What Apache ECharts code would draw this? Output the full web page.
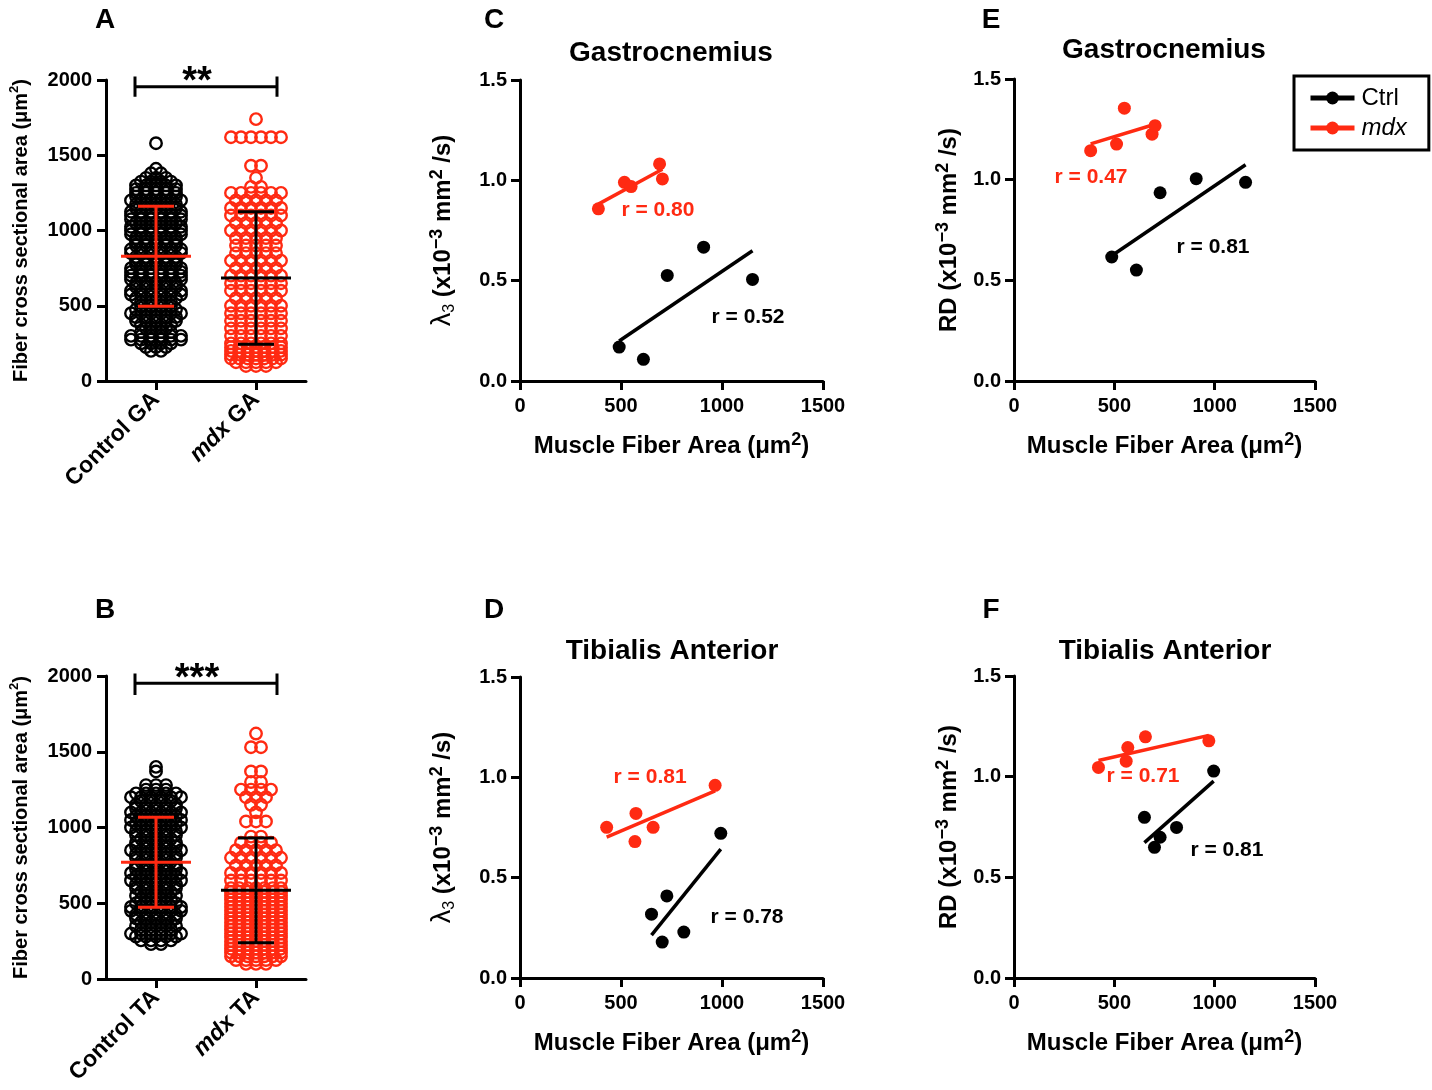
<!DOCTYPE html>
<html><head><meta charset="utf-8">
<script src="https://cdn.jsdelivr.net/npm/echarts@6/dist/echarts.min.js"></script>
<style>html,body{margin:0;padding:0;background:#fff}#c{width:1432px;height:1090px}</style>
</head><body><div id="c"></div>
<script>
const RED = '#ff2a12', BLK = '#000000';
const FONT = '"Liberation Sans", Arial, Helvetica, sans-serif';

// ---------- Panel A / B : fiber cross sectional area (binned: level value, number of fibers) ----------
const gaCats = ['Control GA', 'mdx GA'];
const taCats = ['Control TA', 'mdx TA'];
const areaTicks = [0, 500, 1000, 1500, 2000];

const gaCtrlLevels = [200,225,250,275,300,325,350,375,400,425,450,475,500,525,550,575,600,625,650,675,700,725,750,775,800,825,850,875,900,925,950,975,1000,1025,1050,1075,1100,1125,1150,1175,1200,1225,1250,1275,1300,1325,1350,1380,1410,1580];
const gaCtrlCounts = [2,3,4,6,6,4,3,4,5,5,6,5,4,4,5,6,6,5,5,6,6,6,6,5,5,5,6,6,5,5,5,6,6,6,5,6,6,6,5,5,6,5,5,5,5,4,3,2,1,1];
const gaMdxLevels  = [100,125,150,175,200,225,250,300,350,400,450,500,550,600,650,700,750,800,850,900,950,1000,1050,1100,1150,1200,1250,1290,1350,1430,1620,1740];
const gaMdxCounts  = [3,5,7,7,7,7,6,6,6,6,6,6,5,6,6,6,5,6,5,5,5,6,5,6,6,5,6,2,1,2,6,1];
const taCtrlLevels = [230,255,280,300,325,350,375,400,425,450,475,500,525,550,575,600,625,650,675,700,725,750,775,800,825,850,875,900,925,950,975,1000,1025,1050,1075,1100,1125,1150,1175,1200,1225,1250,1280,1370,1400];
const taCtrlCounts = [2,4,5,6,4,5,4,5,5,6,6,5,4,5,4,5,5,6,5,6,5,5,4,5,5,6,5,5,4,5,5,6,5,6,5,6,5,5,4,6,5,3,3,1,1];
const taMdxLevels  = [100,125,150,175,200,225,250,275,300,325,350,375,400,425,450,475,500,525,550,575,600,650,700,750,800,850,900,940,1040,1100,1150,1200,1250,1300,1370,1530,1620];
const taMdxCounts  = [3,5,7,7,7,7,7,7,7,7,7,7,7,7,7,7,7,7,7,7,7,6,6,5,6,5,4,2,3,1,2,3,4,2,2,2,1];

// mean and SD (Control, mdx)
const gaMean = [829, 685], gaSD = [332, 440];
const taMean = [771, 585], taSD = [297, 346];
const gaStars = '**', taStars = '***';

// ---------- Panels C-F : DWI metric vs muscle fiber area ----------
const fiberTicks = [0, 500, 1000, 1500];
const dwiTicks = [0, 0.5, 1.0, 1.5];
// C: lambda3, Gastrocnemius
const cCtrlX = [491, 611, 729, 909, 1151], cCtrlY = [0.169, 0.108, 0.526, 0.667, 0.506];
const cMdxX  = [388, 517, 550, 691, 705],  cMdxY  = [0.858, 0.990, 0.969, 1.082, 1.007];
// D: lambda3, Tibialis Anterior
const dCtrlX = [651, 704, 727, 811, 994],  dCtrlY = [0.318, 0.179, 0.409, 0.229, 0.721];
const dMdxX  = [429, 569, 574, 659, 966],  dMdxY  = [0.751, 0.680, 0.820, 0.751, 0.960];
// E: RD, Gastrocnemius
const eCtrlX = [487, 610, 728, 908, 1154], eCtrlY = [0.616, 0.551, 0.935, 1.005, 0.987];
const eMdxX  = [382, 511, 550, 688, 703],  eMdxY  = [1.144, 1.177, 1.355, 1.226, 1.268];
// F: RD, Tibialis Anterior
const fCtrlX = [650, 700, 728, 810, 995],  fCtrlY = [0.798, 0.649, 0.699, 0.748, 1.028];
const fMdxX  = [421, 559, 567, 655, 971],  fMdxY  = [1.046, 1.077, 1.145, 1.198, 1.178];
// correlation coefficients as printed
const rText = { cCtrl:'r = 0.52', cMdx:'r = 0.80', dCtrl:'r = 0.78', dMdx:'r = 0.81',
                eCtrl:'r = 0.81', eMdx:'r = 0.47', fCtrl:'r = 0.81', fMdx:'r = 0.71' };

// ---------- layout (annotation anchors in data coordinates) ----------
const rPos = { cCtrl:[1129,0.319], cMdx:[683,0.852], dCtrl:[1124,0.305], dMdx:[644,1.001],
               eCtrl:[992,0.664], eMdx:[384,1.012], fCtrl:[1061,0.637], fMdx:[643,1.0] };

const chart = echarts.init(document.getElementById('c'), null, {renderer:'canvas', devicePixelRatio:1});

const grids = [
  {left:106, top:80,  width:200, height:301},  // A
  {left:106, top:676, width:200, height:303},  // B
  {left:520, top:80,  width:303, height:301},  // C
  {left:520, top:677, width:303, height:301},  // D
  {left:1014, top:79, width:301, height:302},  // E
  {left:1014, top:676, width:301, height:302}  // F
];

const axisLine = {show:true, onZero:false, lineStyle:{color:'#000', width:3}};
const axisTick = {show:true, length:9, lineStyle:{color:'#000', width:3}};
const lbl = {color:'#000', fontSize:20, fontWeight:'bold', fontFamily:FONT};
const rich = {
  n:  {fontSize:24, fontWeight:'bold', fontFamily:FONT, color:'#000', lineHeight:30},
  sp: {fontSize:18, fontWeight:'bold', fontFamily:FONT, color:'#000', lineHeight:18, verticalAlign:'top'},
  l:  {fontSize:27, fontWeight:'normal', fontFamily:FONT, color:'#000', lineHeight:30},
  sb: {fontSize:16, fontWeight:'normal', fontFamily:FONT, color:'#000', lineHeight:16, verticalAlign:'bottom'},
  a:  {fontSize:20, fontWeight:'bold', fontFamily:FONT, color:'#000', lineHeight:26},
  as: {fontSize:13, fontWeight:'bold', fontFamily:FONT, color:'#000', lineHeight:13, verticalAlign:'top'},
  b:  {fontSize:23, fontWeight:'bold', fontFamily:FONT, color:'#000'},
  i:  {fontSize:23, fontWeight:'bold', fontStyle:'italic', fontFamily:FONT, color:'#000'}
};
const xName = '{n|Muscle Fiber Area (μm}{sp|2}{n|)}';
const lamName = '{l|λ}{sb|3}{n| (x10}{sp|−3}{n| mm}{sp|2}{n| /s)}';
const rdName = '{n|RD (x10}{sp|−3}{n| mm}{sp|2}{n| /s)}';
const areaName = '{a|Fiber cross sectional area (μm}{as|2}{a|)}';

function catAxis(grid, cats) {
  return {type:'category', gridIndex:grid, data:cats, boundaryGap:true,
    axisLine, axisTick:Object.assign({alignWithLabel:true}, axisTick), splitLine:{show:false},
    axisLabel:{rotate:45, margin:15, color:'#000', fontSize:23, fontWeight:'bold', fontFamily:FONT, rich,
      formatter: v => v.startsWith('mdx') ? '{i|mdx}{b|' + v.slice(3) + '}' : '{b|' + v + '}'}};
}
function hiddenX(grid) {
  return {type:'value', gridIndex:grid, min:-0.5, max:1.5, show:false, splitLine:{show:false}};
}
function fiberX(grid) {
  return {type:'value', gridIndex:grid, min:fiberTicks[0], max:fiberTicks[fiberTicks.length-1], interval:500,
    axisLine, axisTick, splitLine:{show:false}, axisLabel:Object.assign({margin:15, formatter: v => String(v)}, lbl),
    name:xName, nameLocation:'middle', nameGap:50, nameTextStyle:{rich}};
}
function areaY(grid) {
  return {type:'value', gridIndex:grid, min:areaTicks[0], max:areaTicks[areaTicks.length-1], interval:500,
    axisLine, axisTick, splitLine:{show:false}, axisLabel:Object.assign({margin:14, formatter: v => String(v)}, lbl),
    name:areaName, nameLocation:'middle', nameGap:72, nameTextStyle:{rich}};
}
function dwiY(grid, name, gap) {
  return {type:'value', gridIndex:grid, min:dwiTicks[0], max:dwiTicks[dwiTicks.length-1], interval:0.5,
    axisLine, axisTick, splitLine:{show:false},
    axisLabel:Object.assign({margin:13, formatter: v => v.toFixed(1)}, lbl),
    name, nameLocation:'middle', nameGap:gap, nameTextStyle:{rich}};
}

// beeswarm layout: spread fibers of the same level horizontally (px -> category units, 100 px per unit)
function swarm(levels, counts, cat) {
  const pts = [];
  levels.forEach((v, k) => {
    const n = counts[k];
    const sp = n > 1 ? Math.min(10, 50 / (n - 1)) : 0;
    for (let i = 0; i < n; i++) pts.push([cat + (i - (n - 1) / 2) * sp / 100, v]);
  });
  return pts;
}
function swarmSeries(pts, color, xi, yi) {
  return {type:'scatter', xAxisIndex:xi, yAxisIndex:yi, data:pts, symbol:'circle', symbolSize:11.5,
    silent:true, z:2, itemStyle:{color:'rgba(0,0,0,0)', borderColor:color, borderWidth:2.4, opacity:1}};
}
function errSeries(means, sds, xi, yi) {
  return {type:'custom', xAxisIndex:xi, yAxisIndex:yi, z:5, silent:true,
    data: means.map((m, k) => [k, m, sds[k]]),
    renderItem: (params, api) => {
      const x = api.value(0), m = api.value(1), s = api.value(2);
      const c = api.coord([x, m]), t = api.coord([x, m + s]), b = api.coord([x, m - s]);
      const col = params.dataIndex === 0 ? RED : BLK;
      const st = {stroke:col, lineWidth:3};
      return {type:'group', children:[
        {type:'line', shape:{x1:c[0]-35, y1:c[1], x2:c[0]+35, y2:c[1]}, style:st},
        {type:'line', shape:{x1:t[0], y1:t[1], x2:b[0], y2:b[1]}, style:st},
        {type:'line', shape:{x1:t[0]-18, y1:t[1], x2:t[0]+18, y2:t[1]}, style:st},
        {type:'line', shape:{x1:b[0]-18, y1:b[1], x2:b[0]+18, y2:b[1]}, style:st}
      ]};
    }};
}
function bracketSeries(xi, yi, lvl, lo, hi, stars, starY) {
  return [
    {type:'line', xAxisIndex:xi, yAxisIndex:yi, clip:false, symbol:'none', silent:true, z:5,
      lineStyle:{color:'#000', width:3, opacity:1},
      data:[[-0.21, lo], [-0.21, hi], [-0.21, lvl], [1.21, lvl], [1.21, hi], [1.21, lo]]},
    {type:'scatter', xAxisIndex:xi, yAxisIndex:yi, clip:false, silent:true, symbolSize:1,
      itemStyle:{color:'rgba(0,0,0,0)', opacity:1}, data:[[0.41, starY]],
      label:{show:true, position:'inside', formatter:stars, color:'#000', opacity:1, fontSize:38, fontWeight:'bold', fontFamily:FONT}}
  ];
}
function fit(xs, ys) {
  const n = xs.length;
  const mx = xs.reduce((a, b) => a + b, 0) / n, my = ys.reduce((a, b) => a + b, 0) / n;
  let sxy = 0, sxx = 0;
  xs.forEach((x, k) => { sxy += (x - mx) * (ys[k] - my); sxx += (x - mx) * (x - mx); });
  const b = sxy / sxx, a = my - b * mx;
  const x0 = Math.min(...xs), x1 = Math.max(...xs);
  return [[x0, a + b * x0], [x1, a + b * x1]];
}
function groupSeries(xs, ys, color, xi, yi, key) {
  return [
    {type:'line', xAxisIndex:xi, yAxisIndex:yi, data:fit(xs, ys), symbol:'none', silent:true, z:2,
      lineStyle:{color, width:3.5, opacity:1}},
    {type:'scatter', xAxisIndex:xi, yAxisIndex:yi, data:xs.map((x, k) => [x, ys[k]]), symbol:'circle',
      symbolSize:13, silent:true, z:3, itemStyle:{color, opacity:1}},
    {type:'scatter', xAxisIndex:xi, yAxisIndex:yi, clip:false, silent:true, symbolSize:1,
      itemStyle:{color:'rgba(0,0,0,0)', opacity:1}, data:[rPos[key]],
      label:{show:true, position:'inside', formatter:rText[key], color, opacity:1, fontSize:21, fontWeight:'bold', fontFamily:FONT}}
  ];
}

const series = [
  swarmSeries(swarm(gaCtrlLevels, gaCtrlCounts, 0), BLK, 1, 0),
  swarmSeries(swarm(gaMdxLevels, gaMdxCounts, 1), RED, 1, 0),
  errSeries(gaMean, gaSD, 1, 0),
  ...bracketSeries(1, 0, 1955, 1888, 2024, gaStars, 1986),
  swarmSeries(swarm(taCtrlLevels, taCtrlCounts, 0), BLK, 3, 1),
  swarmSeries(swarm(taMdxLevels, taMdxCounts, 1), RED, 3, 1),
  errSeries(taMean, taSD, 3, 1),
  ...bracketSeries(3, 1, 1952, 1875, 2017, taStars, 1975),
  ...groupSeries(cCtrlX, cCtrlY, BLK, 4, 2, 'cCtrl'),
  ...groupSeries(cMdxX, cMdxY, RED, 4, 2, 'cMdx'),
  ...groupSeries(dCtrlX, dCtrlY, BLK, 5, 3, 'dCtrl'),
  ...groupSeries(dMdxX, dMdxY, RED, 5, 3, 'dMdx'),
  ...groupSeries(eCtrlX, eCtrlY, BLK, 6, 4, 'eCtrl'),
  ...groupSeries(eMdxX, eMdxY, RED, 6, 4, 'eMdx'),
  ...groupSeries(fCtrlX, fCtrlY, BLK, 7, 5, 'fCtrl'),
  ...groupSeries(fMdxX, fMdxY, RED, 7, 5, 'fMdx'),
  {type:'line', name:'Ctrl', xAxisIndex:6, yAxisIndex:4, data:[], symbol:'circle', symbolSize:13,
    itemStyle:{color:BLK}, lineStyle:{color:BLK, width:5}},
  {type:'line', name:'mdx', xAxisIndex:6, yAxisIndex:4, data:[], symbol:'circle', symbolSize:13,
    itemStyle:{color:RED}, lineStyle:{color:RED, width:5}}
];

function txt(text, x, y, size) {
  return {type:'text', x, y, silent:true, style:{text, fontSize:size, fontWeight:'bold', fontFamily:FONT,
    fill:'#000', align:'center', verticalAlign:'middle', textAlign:'center', textVerticalAlign:'middle'}};
}

chart.setOption({
  animation:false,
  backgroundColor:'#fff',
  textStyle:{fontFamily:FONT},
  grid:grids,
  xAxis:[catAxis(0, gaCats), hiddenX(0), catAxis(1, taCats), hiddenX(1),
         fiberX(2), fiberX(3), fiberX(4), fiberX(5)],
  yAxis:[areaY(0), areaY(1), dwiY(2, lamName, 62), dwiY(3, lamName, 62), dwiY(4, rdName, 50), dwiY(5, rdName, 50)],
  legend:{orient:'vertical', left:1294, top:76, data:['Ctrl', 'mdx'], selectedMode:false,
    padding:[10, 22, 10, 14], itemGap:6, itemWidth:44, itemHeight:16,
    lineStyle:{width:5},
    borderColor:'#000', borderWidth:3, borderRadius:0, backgroundColor:'#fff',
    textStyle:{fontSize:24, color:'#000', fontFamily:FONT, padding:[0,0,0,2],
      rich:{i:{fontStyle:'italic', fontSize:24, color:'#000', fontFamily:FONT}}},
    formatter: n => n === 'mdx' ? '{i|mdx}' : n},
  graphic:[
    txt('A', 105, 20, 28), txt('B', 105, 610, 28), txt('C', 494, 20, 28),
    txt('D', 494, 610, 28), txt('E', 991, 20, 28), txt('F', 991, 610, 28),
    txt('Gastrocnemius', 671, 53, 28), txt('Gastrocnemius', 1164, 50, 28),
    txt('Tibialis Anterior', 672, 651, 28), txt('Tibialis Anterior', 1165, 651, 28)
  ],
  series
});
</script></body></html>
